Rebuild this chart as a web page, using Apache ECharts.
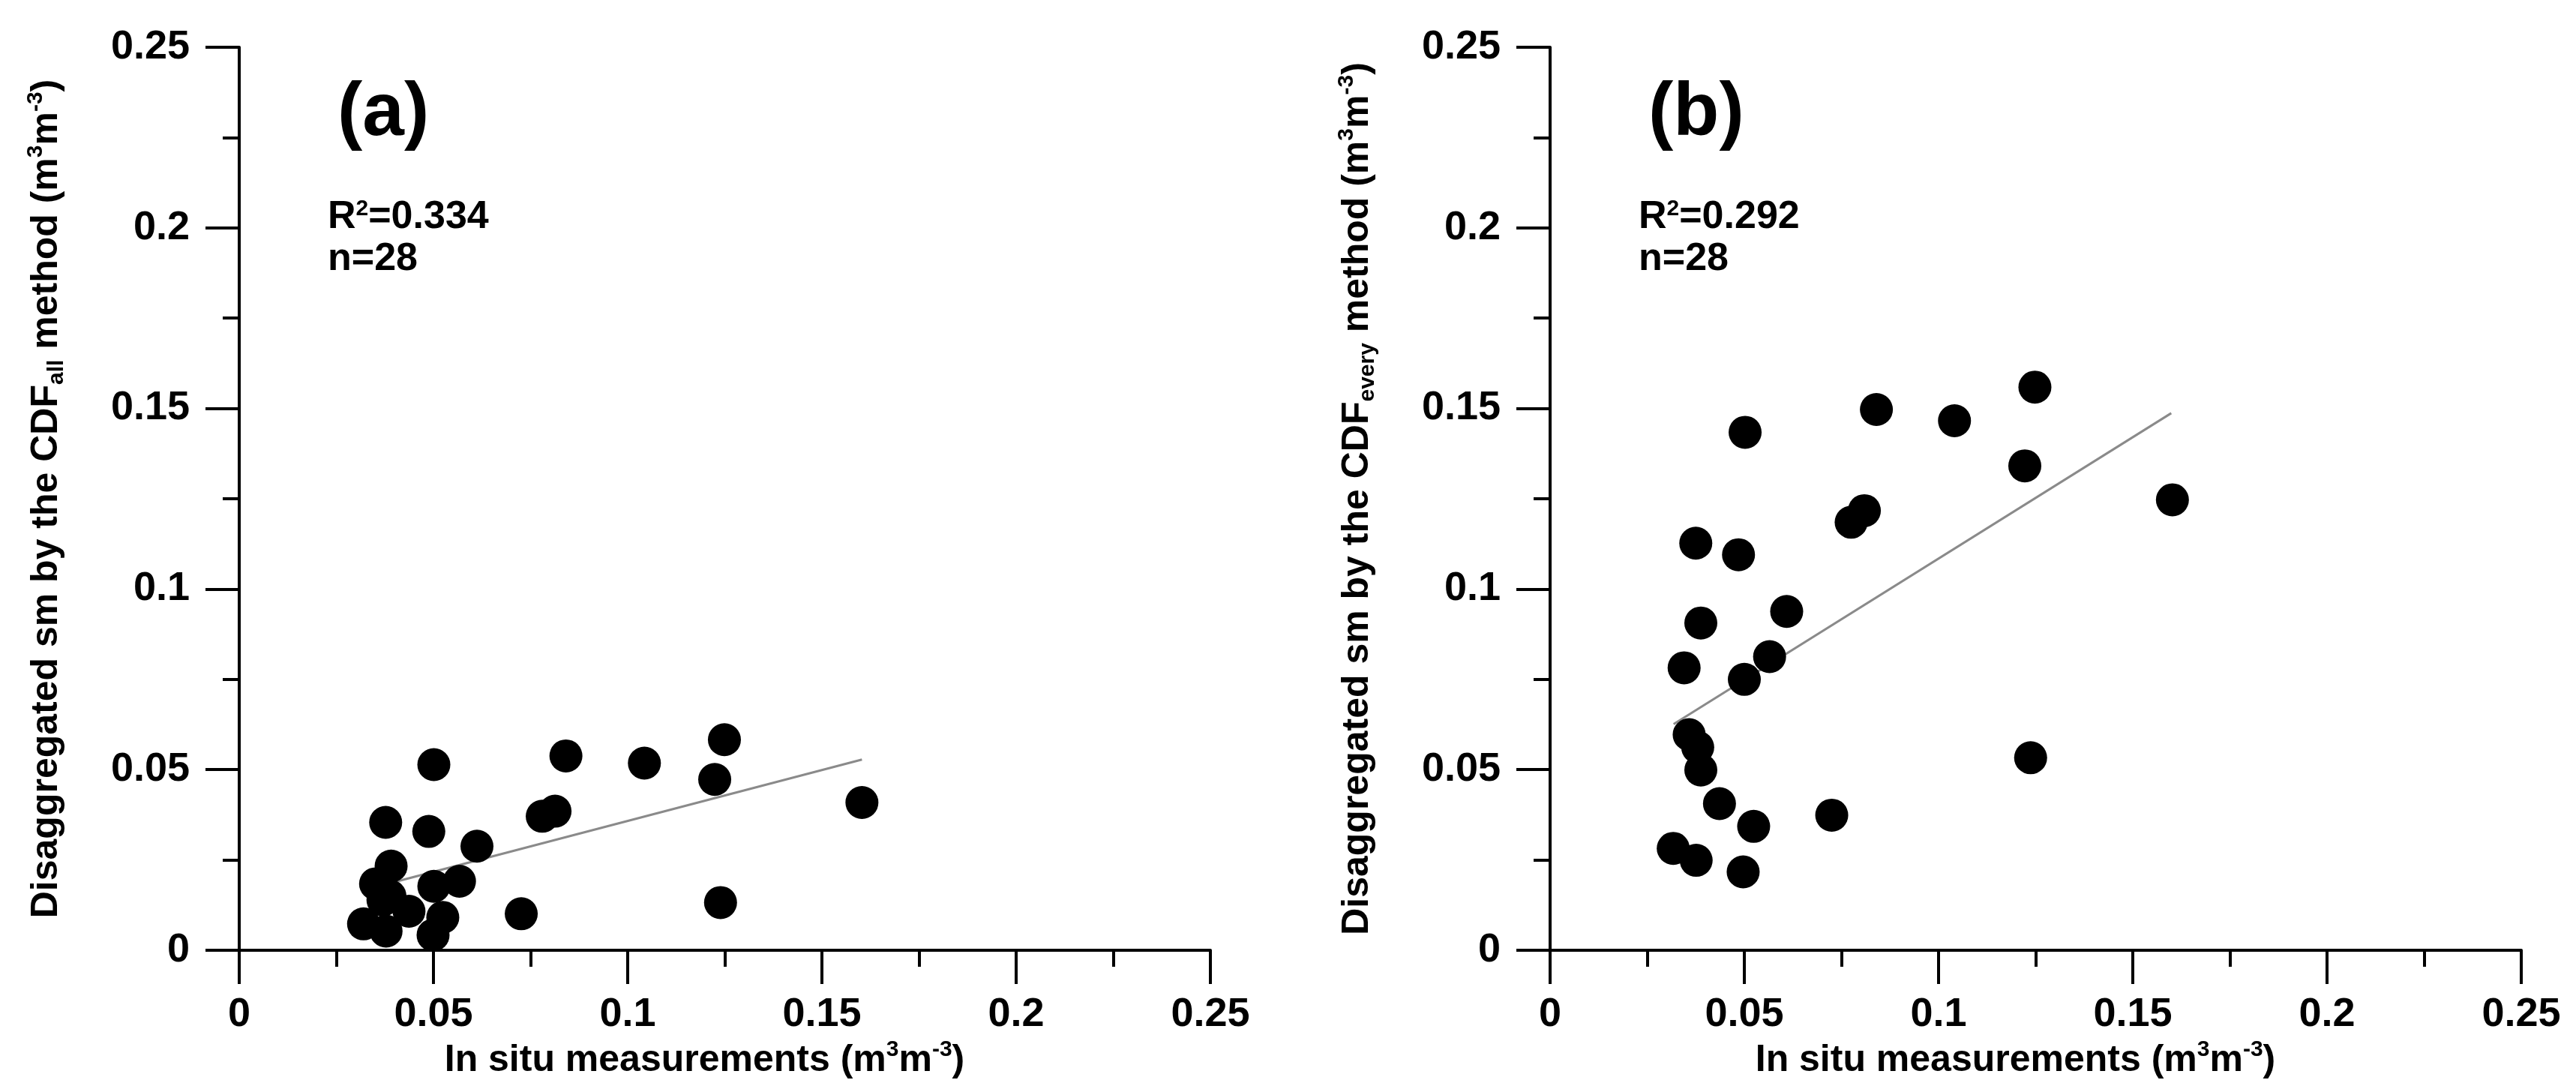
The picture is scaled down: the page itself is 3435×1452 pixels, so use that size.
<!DOCTYPE html>
<html>
<head>
<meta charset="utf-8">
<title>Disaggregated sm vs in situ</title>
<script src="https://cdn.jsdelivr.net/npm/echarts@6.0.0/dist/echarts.min.js"></script>
<style>
  html, body { margin: 0; padding: 0; background: #fff; }
  #main { width: 3435px; height: 1452px; }
</style>
</head>
<body>
<div id="main"></div>
<script>
// axis ticks (both panels share the same scale)
const xTicks = [0, 0.05, 0.1, 0.15, 0.2, 0.25];
const yTicks = [0, 0.05, 0.1, 0.15, 0.2, 0.25];

// panel (a): CDF_all
const insituA = [0.0501, 0.0841, 0.1043, 0.1249, 0.1224, 0.1603, 0.0377, 0.0488, 0.0612, 0.0780, 0.0813, 0.0391,
  0.0351, 0.0501, 0.0567, 0.0370, 0.0437, 0.0320, 0.0378, 0.0524, 0.0499, 0.0726, 0.1239, 0.0388];
const cdfAll = [0.0514, 0.0538, 0.0518, 0.0583, 0.0473, 0.0409, 0.0354, 0.0329, 0.0288, 0.0371, 0.0385, 0.0233,
  0.0184, 0.0177, 0.0191, 0.0139, 0.0108, 0.0073, 0.0053, 0.0091, 0.0042, 0.0101, 0.0132, 0.0150];

// panel (b): CDF_every
const insituB = [0.0502, 0.0840, 0.1041, 0.1248, 0.1222, 0.1602, 0.0809, 0.0775, 0.0375, 0.0485, 0.0388, 0.0609,
  0.0345, 0.0565, 0.0500, 0.0358, 0.0380, 0.0388, 0.1237, 0.0436, 0.0725, 0.0524, 0.0317, 0.0376, 0.0497];
const cdfEvery = [0.1434, 0.1497, 0.1466, 0.1559, 0.1341, 0.1247, 0.1217, 0.1185, 0.1127, 0.1095, 0.0906, 0.0938,
  0.0782, 0.0813, 0.0750, 0.0597, 0.0562, 0.0499, 0.0533, 0.0406, 0.0374, 0.0343, 0.0282, 0.0249, 0.0217];

// regression lines (end points)
const fitAX = [0.0400, 0.1603];
const fitAY = [0.0189, 0.0528];
const fitBX = [0.0318, 0.1599];
const fitBY = [0.0626, 0.1487];

const panelLabels = ['(a)', '(b)'];
const r2Values = ['0.334', '0.292'];
const nValues = [28, 28];
const subs = ['all', 'every'];

const FONT = '"Liberation Sans", Arial, sans-serif';
const gridLefts = [319, 2067];

const pair = (xs, ys) => xs.map((x, i) => [x, ys[i]]);

const rich = {
  sup: { fontSize: 30, fontWeight: 'bold', fontFamily: FONT, color: '#000', verticalAlign: 'top', lineHeight: 30 },
  sub: { fontSize: 30, fontWeight: 'bold', fontFamily: FONT, color: '#000', verticalAlign: 'bottom', lineHeight: 30 }
};

const nameStyle = {
  fontSize: 50, fontWeight: 'bold', fontFamily: FONT, color: '#000', lineHeight: 58, rich: rich
};

const axisLine = { show: true, onZero: false, lineStyle: { color: '#000', width: 4 } };
const axisTick = { show: true, length: 45, lineStyle: { color: '#000', width: 4 } };
const minorTick = { show: true, splitNumber: 2, length: 22, lineStyle: { color: '#000', width: 4 } };
const labelStyle = { fontSize: 54, fontWeight: 'bold', fontFamily: FONT, color: '#000' };

const myChart = echarts.init(document.getElementById('main'));

const option = {
  animation: false,
  backgroundColor: '#fff',
  grid: gridLefts.map(l => ({ left: l, top: 63, width: 1295, height: 1204 })),
  xAxis: [0, 1].map(i => ({
    gridIndex: i,
    type: 'value',
    min: xTicks[0],
    max: xTicks[xTicks.length - 1],
    interval: xTicks[1] - xTicks[0],
    name: 'In situ measurements (m{sup|3}m{sup|-3})',
    nameLocation: 'middle',
    nameGap: 118,
    nameTextStyle: Object.assign({ padding: [0, 54, 0, 0] }, nameStyle),
    axisLine: axisLine,
    axisTick: axisTick,
    minorTick: minorTick,
    splitLine: { show: false },
    axisLabel: Object.assign({ margin: 59 }, labelStyle)
  })),
  yAxis: [0, 1].map(i => ({
    gridIndex: i,
    type: 'value',
    min: yTicks[0],
    max: yTicks[yTicks.length - 1],
    interval: yTicks[1] - yTicks[0],
    name: 'Disaggregated sm by the CDF{sub|' + subs[i] + '} method (m{sup|3}m{sup|-3})',
    nameLocation: 'middle',
    nameRotate: 90,
    nameGap: 228,
    nameTextStyle: nameStyle,
    axisLine: axisLine,
    axisTick: axisTick,
    minorTick: minorTick,
    splitLine: { show: false },
    axisLabel: Object.assign({ margin: 66 }, labelStyle)
  })),
  series: [
    {
      type: 'line', xAxisIndex: 0, yAxisIndex: 0, z: 1,
      data: pair(fitAX, fitAY), showSymbol: false, symbol: 'none',
      lineStyle: { color: '#8a8a8a', width: 3 }
    },
    {
      type: 'scatter', xAxisIndex: 0, yAxisIndex: 0, z: 2,
      data: pair(insituA, cdfAll), symbolSize: 44,
      itemStyle: { color: '#000', opacity: 1 }
    },
    {
      type: 'line', xAxisIndex: 1, yAxisIndex: 1, z: 1,
      data: pair(fitBX, fitBY), showSymbol: false, symbol: 'none',
      lineStyle: { color: '#8a8a8a', width: 3 }
    },
    {
      type: 'scatter', xAxisIndex: 1, yAxisIndex: 1, z: 2,
      data: pair(insituB, cdfEvery), symbolSize: 44,
      itemStyle: { color: '#000', opacity: 1 }
    }
  ],
  graphic: [0, 1].flatMap(i => [
    {
      type: 'text', x: gridLefts[i] + 131, y: 152,
      style: { text: panelLabels[i], font: 'bold 100px ' + FONT, fill: '#000', verticalAlign: 'middle', align: 'left' }
    },
    {
      type: 'text', x: gridLefts[i] + 118, y: 290,
      style: {
        text: 'R{sup|2}=' + r2Values[i], font: 'bold 52px ' + FONT, fill: '#000',
        verticalAlign: 'middle', align: 'left',
        rich: { sup: { font: 'bold 30px ' + FONT, fill: '#000', verticalAlign: 'top' } }
      }
    },
    {
      type: 'text', x: gridLefts[i] + 118, y: 346,
      style: { text: 'n=' + nValues[i], font: 'bold 52px ' + FONT, fill: '#000', verticalAlign: 'middle', align: 'left' }
    }
  ])
};

myChart.setOption(option);
window.addEventListener('resize', myChart.resize);
</script>
</body>
</html>
